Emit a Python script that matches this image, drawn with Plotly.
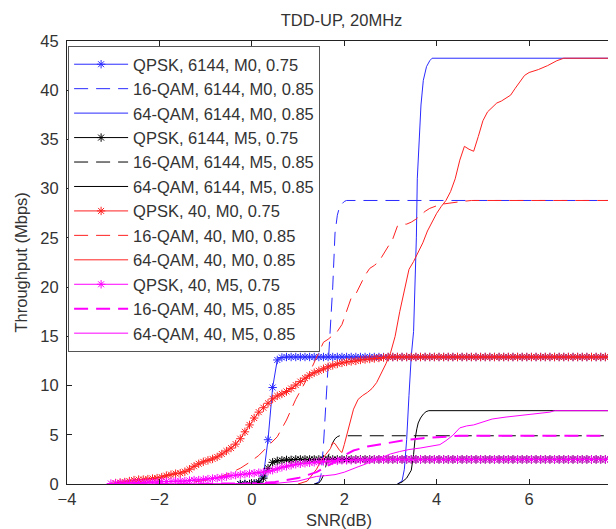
import plotly.graph_objects as go

# ---------------- data ----------------
# SNR grid (dB) used by the QPSK (marker) curves, 0.1 dB step
SNR_Q = [round(-3.05 + 0.1 * i, 2) for i in range(111)]

# start index on SNR_Q for each QPSK curve
START_BLUE_Q = 28     # -0.25 dB
START_BLACK_Q = 28    # -0.25 dB
START_RED_Q = 1       # -2.95 dB
START_MAG_Q = 0       # -3.05 dB

QPSK_6144_M0 = [0, 0, 0, 0, 0.1, 0.8, 4.5, 9.8, 12.6, 12.85,
                12.9, 12.9, 12.9, 12.9, 12.9, 12.9, 12.9, 12.9, 12.9, 12.9,
                12.9, 12.9, 12.9, 12.9, 12.9, 12.9, 12.9, 12.9, 12.9, 12.9,
                12.9, 12.9, 12.9, 12.9, 12.9, 12.9, 12.9, 12.9, 12.9, 12.9,
                12.9, 12.9, 12.9, 12.9, 12.9, 12.9, 12.9, 12.9, 12.9, 12.9,
                12.9, 12.9, 12.9, 12.9, 12.9, 12.9, 12.9, 12.9, 12.9, 12.9,
                12.9, 12.9, 12.9, 12.9, 12.9, 12.9, 12.9, 12.9, 12.9, 12.9,
                12.9, 12.9, 12.9, 12.9, 12.9, 12.9, 12.9, 12.9, 12.9, 12.9,
                12.9, 12.9, 12.9]

QPSK_6144_M5 = [0, 0, 0, 0.05, 0.2, 0.6, 1.6, 2.2, 2.35, 2.4,
                2.45, 2.45, 2.5, 2.5, 2.5, 2.5, 2.5, 2.5, 2.5, 2.5,
                2.5, 2.5, 2.5, 2.5, 2.5, 2.5, 2.5, 2.5, 2.5, 2.5,
                2.5, 2.5, 2.5, 2.5, 2.5, 2.5, 2.5, 2.5, 2.5, 2.5,
                2.5, 2.5, 2.5, 2.5, 2.5, 2.5, 2.5, 2.5, 2.5, 2.5,
                2.5, 2.5, 2.5, 2.5, 2.5, 2.5, 2.5, 2.5, 2.5, 2.5,
                2.5, 2.5, 2.5, 2.5, 2.5, 2.5, 2.5, 2.5, 2.5, 2.5,
                2.5, 2.5, 2.5, 2.5, 2.5, 2.5, 2.5, 2.5, 2.5, 2.5,
                2.5, 2.5, 2.5]

QPSK_40_M0 = [0.1, 0.15, 0.2, 0.3, 0.4, 0.45, 0.45, 0.5, 0.55, 0.6,
              0.7, 0.85, 0.95, 1.05, 1.1, 1.25, 1.5, 1.8, 2.05, 2.25,
              2.4, 2.55, 2.75, 3.05, 3.35, 3.65, 4.05, 4.6, 5.3, 6.0,
              6.7, 7.3, 7.75, 8.2, 8.65, 8.95, 9.15, 9.4, 9.7, 10.05,
              10.4, 10.75, 11.05, 11.3, 11.5, 11.7, 11.9, 12.05, 12.2, 12.3,
              12.4, 12.45, 12.5, 12.6, 12.65, 12.7, 12.75, 12.8, 12.85, 12.9,
              12.9, 12.9, 12.9, 12.9, 12.9, 12.9, 12.9, 12.9, 12.9, 12.9,
              12.9, 12.9, 12.9, 12.9, 12.9, 12.9, 12.9, 12.9, 12.9, 12.9,
              12.9, 12.9, 12.9, 12.9, 12.9, 12.9, 12.9, 12.9, 12.9, 12.9,
              12.9, 12.9, 12.9, 12.9, 12.9, 12.9, 12.9, 12.9, 12.9, 12.9,
              12.9, 12.9, 12.9, 12.9, 12.9, 12.9, 12.9, 12.9, 12.9, 12.9]

QPSK_40_M5 = [0.05, 0.05, 0.1, 0.1, 0.1, 0.15, 0.15, 0.15, 0.2, 0.2,
              0.2, 0.25, 0.25, 0.25, 0.3, 0.3, 0.3, 0.35, 0.4, 0.4,
              0.45, 0.5, 0.55, 0.6, 0.65, 0.75, 0.85, 0.9, 0.95, 1.0,
              1.05, 1.1, 1.15, 1.2, 1.3, 1.4, 1.55, 1.7, 1.8, 1.9,
              2.0, 2.05, 2.1, 2.15, 2.2, 2.25, 2.3, 2.3, 2.35, 2.35,
              2.4, 2.4, 2.4, 2.45, 2.45, 2.45, 2.45, 2.5, 2.5, 2.5,
              2.5, 2.5, 2.5, 2.5, 2.5, 2.5, 2.5, 2.5, 2.5, 2.5,
              2.5, 2.5, 2.5, 2.5, 2.5, 2.5, 2.5, 2.5, 2.5, 2.5,
              2.5, 2.5, 2.5, 2.5, 2.5, 2.5, 2.5, 2.5, 2.5, 2.5,
              2.5, 2.5, 2.5, 2.5, 2.5, 2.5, 2.5, 2.5, 2.5, 2.5,
              2.5, 2.5, 2.5, 2.5, 2.5, 2.5, 2.5, 2.5, 2.5, 2.5, 2.5]

# 16-QAM / 64-QAM curves (lines only)
X_16_6144_M0 = [1.35, 1.45, 1.5, 1.55, 1.6, 1.65, 1.7, 1.75, 1.8, 1.85, 1.9, 1.95, 2.0, 2.05, 7.95]
Y_16_6144_M0 = [0, 0.2, 1.0, 4.0, 8.0, 12.0, 15.0, 20.0, 25.5, 27.3, 28.2, 28.5, 28.7, 28.8, 28.8]

X_64_6144_M0 = [3.15, 3.25, 3.3, 3.35, 3.4, 3.45, 3.5, 3.53, 3.56, 3.58, 3.62, 3.66, 3.71, 3.78, 3.85, 3.9, 7.95]
Y_64_6144_M0 = [0, 0.3, 1.5, 4.5, 9.0, 13.0, 15.5, 19.7, 25.0, 31.0, 35.5, 38.5, 41.0, 42.4, 43.0, 43.25, 43.25]

X_16_6144_M5 = [1.35, 1.45, 1.5, 1.55, 1.6, 1.65, 1.7, 1.75, 1.8, 1.85, 1.9, 7.95]
Y_16_6144_M5 = [0, 0.1, 0.4, 0.9, 1.8, 2.8, 3.6, 4.2, 4.6, 4.8, 4.9, 4.9]

X_64_6144_M5 = [3.15, 3.25, 3.35, 3.45, 3.5, 3.53, 3.57, 3.6, 3.65, 3.71, 3.77, 3.83, 7.95]
Y_64_6144_M5 = [0, 0.2, 0.6, 1.4, 3.0, 4.5, 5.6, 6.2, 6.7, 7.1, 7.35, 7.45, 7.45]

X_16_40_M0 = [-1.25, -1.05, -0.85, -0.65, -0.45, -0.25, -0.05, 0.15, 0.35, 0.55, 0.75, 0.95,
              1.15, 1.35, 1.55, 1.65, 1.75, 1.85, 1.95, 2.05, 2.15, 2.25, 2.35, 2.45, 2.55,
              2.65, 2.75, 2.85, 2.95, 3.05, 3.15, 3.25, 3.35, 3.45, 3.55, 3.65, 3.75, 3.85,
              3.95, 4.05, 4.15, 4.35, 4.55, 4.75, 7.95]
Y_16_40_M0 = [0.2, 0.35, 0.5, 0.8, 1.15, 1.6, 2.2, 2.9, 3.8, 4.8, 6.5, 8.6,
              10.3, 12.3, 14.4, 14.7, 15.1, 15.5, 16.2, 17.6, 18.9, 19.3, 20.2, 21.2, 21.9,
              22.2, 22.6, 23.4, 24.1, 24.9, 26.2, 26.4, 26.4, 26.6, 26.9, 27.3, 27.7, 28.0,
              28.2, 28.35, 28.45, 28.6, 28.7, 28.8, 28.8]

X_64_40_M0 = [1.0, 1.2, 1.4, 1.5, 1.6, 1.7, 1.75, 1.8, 1.9, 1.95, 2.0, 2.1, 2.2, 2.3, 2.4,
              2.5, 2.6, 2.7, 2.8, 2.9, 3.0, 3.1, 3.2, 3.3, 3.4, 3.5, 3.6, 3.7, 3.8, 3.9,
              4.0, 4.1, 4.2, 4.3, 4.4, 4.5, 4.6, 4.7, 4.8, 4.9, 5.0, 5.1, 5.2, 5.3, 5.4,
              5.5, 5.6, 5.7, 5.8, 5.9, 6.0, 6.2, 6.4, 6.6, 6.75, 7.95]
Y_64_40_M0 = [0, 0.3, 1.5, 2.4, 3.0, 3.6, 4.2, 4.1, 3.4, 3.2, 4.0, 5.9, 7.6, 8.6, 9.0,
              9.3, 9.7, 10.3, 11.2, 12.2, 13.3, 15.0, 17.5, 19.6, 21.8, 22.6, 23.5, 24.5, 25.7, 26.6,
              27.5, 28.2, 28.8, 29.7, 31.0, 32.9, 34.3, 34.0, 33.8, 35.3, 36.9, 37.8, 38.3, 38.7, 38.9,
              39.2, 39.5, 40.2, 40.9, 41.5, 41.8, 42.1, 42.5, 43.0, 43.25, 43.25]

X_16_40_M5 = [-3.05, 0.0, 0.5, 1.0, 1.4, 1.7, 2.0, 2.2, 2.5, 2.9, 3.3, 3.7, 4.0, 4.3, 4.5, 7.95]
Y_16_40_M5 = [0, 0.05, 0.2, 0.6, 1.2, 2.0, 2.9, 3.4, 3.8, 4.15, 4.45, 4.65, 4.75, 4.85, 4.9, 4.9]

X_64_40_M5 = [-3.05, 0.5, 1.0, 1.2, 1.4, 1.6, 1.8, 2.0, 2.1, 2.3, 2.5, 2.7, 2.85, 3.0, 3.2,
              3.4, 3.64, 3.85, 4.07, 4.2, 4.35, 4.5, 4.65, 4.8, 5.0, 5.2, 5.5, 5.9, 6.2,
              6.45, 6.55, 7.95]
Y_64_40_M5 = [0, 0.05, 0.3, 0.55, 0.77, 0.85, 0.95, 1.2, 1.4, 1.75, 2.1, 2.5, 2.8, 3.05, 3.3,
              3.5, 3.65, 3.85, 4.0, 4.4, 4.95, 5.7, 5.9, 6.0, 6.3, 6.6, 6.8, 7.0, 7.15,
              7.3, 7.45, 7.45]

NAMES = ["QPSK, 6144, M0, 0.75", "16-QAM, 6144, M0, 0.85", "64-QAM, 6144, M0, 0.85",
         "QPSK, 6144, M5, 0.75", "16-QAM, 6144, M5, 0.85", "64-QAM, 6144, M5, 0.85",
         "QPSK, 40, M0, 0.75", "16-QAM, 40, M0, 0.85", "64-QAM, 40, M0, 0.85",
         "QPSK, 40, M5, 0.75", "16-QAM, 40, M5, 0.85", "64-QAM, 40, M5, 0.85"]

X_TICKS = [-4, -2, 0, 2, 4, 6, 8]
Y_TICKS = [0, 5, 10, 15, 20, 25, 30, 35, 40, 45]

# ---------------- figure ----------------
BLUE, BLACK, RED, MAG = "#2a2aff", "#000000", "#ff2020", "#ff00ff"
FONT = "Liberation Sans, Arial, sans-serif"
TXT = "#333333"
DASH = "14px,8px"
FS = 16.5

fig = go.Figure()


def qpsk(y, start, color, name):
    fig.add_trace(go.Scatter(
        x=SNR_Q[start:start + len(y)], y=y, name=name, mode="lines+markers",
        line=dict(color=color, width=1),
        marker=dict(symbol="asterisk-open", size=7, color=color,
                    line=dict(color=color, width=1))))


def curve(x, y, color, name, dash="solid", width=1):
    fig.add_trace(go.Scatter(x=x, y=y, name=name, mode="lines",
                             line=dict(color=color, width=width, dash=dash)))


qpsk(QPSK_6144_M0, START_BLUE_Q, BLUE, NAMES[0])
curve(X_16_6144_M0, Y_16_6144_M0, BLUE, NAMES[1], DASH)
curve(X_64_6144_M0, Y_64_6144_M0, BLUE, NAMES[2])
qpsk(QPSK_6144_M5, START_BLACK_Q, BLACK, NAMES[3])
curve(X_16_6144_M5, Y_16_6144_M5, BLACK, NAMES[4], DASH)
curve(X_64_6144_M5, Y_64_6144_M5, BLACK, NAMES[5])
qpsk(QPSK_40_M0, START_RED_Q, RED, NAMES[6])
curve(X_16_40_M0, Y_16_40_M0, RED, NAMES[7], DASH)
curve(X_64_40_M0, Y_64_40_M0, RED, NAMES[8])
qpsk(QPSK_40_M5, START_MAG_Q, MAG, NAMES[9])
curve(X_16_40_M5, Y_16_40_M5, MAG, NAMES[10], DASH, 2)
curve(X_64_40_M5, Y_64_40_M5, MAG, NAMES[11])

axis_common = dict(showgrid=False, zeroline=False, ticks="inside", ticklen=5,
                   tickcolor="#222", tickwidth=1, showline=True, linecolor="#222",
                   linewidth=1, tickfont=dict(family=FONT, size=FS, color=TXT))

# page body has an 8px margin: figure occupies page pixels 8..616 x 8..529
W, H = 608, 521
PLOT_H = 443.3

fig.update_layout(
    width=W, height=H,
    margin=dict(l=59, r=0, t=33, b=45, autoexpand=False),
    paper_bgcolor="white", plot_bgcolor="white",
    font=dict(family=FONT, size=FS, color=TXT),
    title=dict(text="TDD-UP, 20MHz", x=0.5, xref="paper", y=1 - 12 / H,
               yanchor="middle", font=dict(family=FONT, size=FS, color=TXT)),
    xaxis=dict(range=[-4, 7.88], tickvals=X_TICKS, mirror="ticks", **axis_common),
    yaxis=dict(range=[0, 45], tickvals=Y_TICKS, mirror=False, ticklabelstandoff=4,
               **axis_common),
    yaxis2=dict(range=[0, 45], tickvals=Y_TICKS, overlaying="y", side="right",
                anchor="x", showticklabels=False, showgrid=False, zeroline=False,
                showline=False, ticks="inside", ticklen=5, tickcolor="#222"),
    showlegend=True,
    legend=dict(x=0.002, y=1 - 5 / PLOT_H, xanchor="left", yanchor="top",
                bgcolor="white", bordercolor="#555", borderwidth=1,
                font=dict(family=FONT, size=FS, color=TXT),
                itemwidth=54, tracegroupgap=0),
    annotations=[
        dict(text="SNR(dB)", xref="paper", yref="paper", x=(339 - 67) / 549,
             y=-(520 - 484.3) / PLOT_H, xanchor="center", yanchor="middle",
             showarrow=False, font=dict(family=FONT, size=FS, color=TXT)),
        dict(text="Throughput (Mbps)", xref="paper", yref="paper",
             x=-(67 - 20) / 549, y=0.5, xanchor="center", yanchor="middle",
             textangle=-90, showarrow=False, font=dict(family=FONT, size=FS, color=TXT)),
    ],
)

fig.write_html("out.html")
